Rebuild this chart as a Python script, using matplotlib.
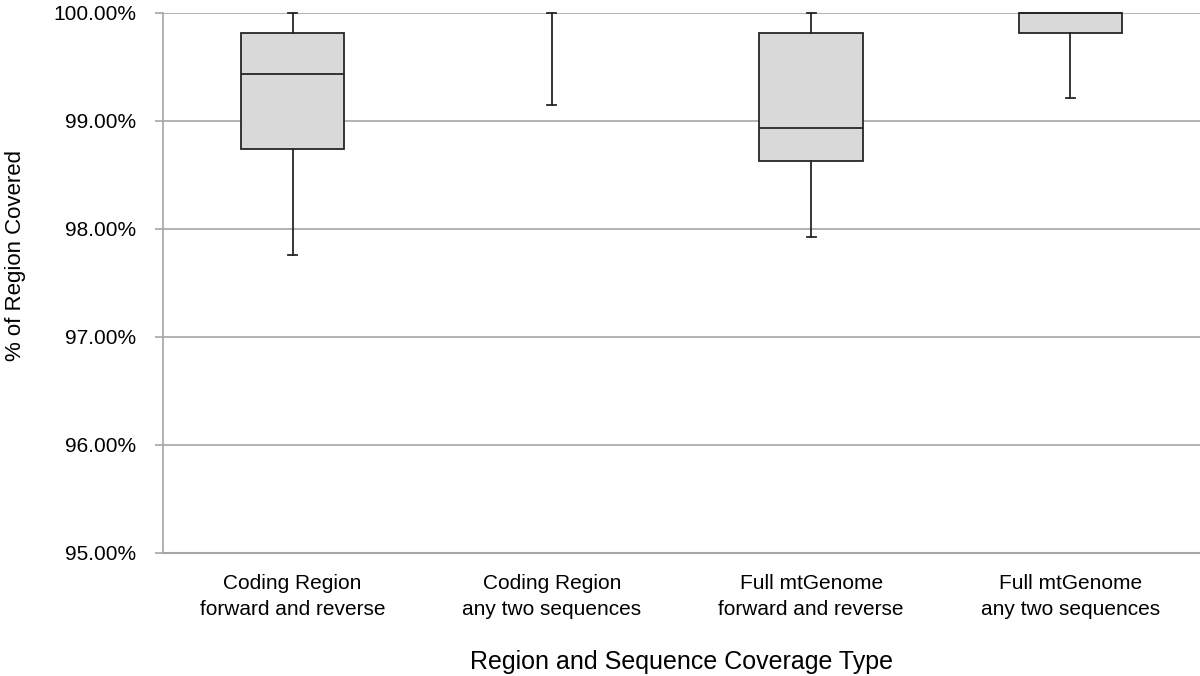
import matplotlib
matplotlib.use("Agg")
import matplotlib.pyplot as plt

plt.rcParams['font.family'] = ['Liberation Sans', 'DejaVu Sans']

# categories (two-line tick labels)
categories = ["Coding Region\nforward and reverse",
              "Coding Region\nany two sequences",
              "Full mtGenome\nforward and reverse",
              "Full mtGenome\nany two sequences"]
# box statistics (% of region covered)
whisker_low = [97.76, 99.145, 97.92, 99.21]
q1 = [98.74, 100.0, 98.63, 99.815]
median = [99.43, 100.0, 98.93, 100.0]
q3 = [99.81, 100.0, 99.816, 100.0]
whisker_high = [100.0, 100.0, 100.0, 100.0]
y_ticks = [95, 96, 97, 98, 99, 100]

stats = []
for i, name in enumerate(categories):
    stats.append(dict(label=name, whislo=whisker_low[i], q1=q1[i], med=median[i],
                      q3=q3[i], whishi=whisker_high[i], fliers=[]))

fig = plt.figure(figsize=(12, 6.76), dpi=100)
ax = fig.add_axes([163/1200, 123/676, 1037/1200, 540.3/676])

edge = '#262626'
bp = ax.bxp(stats, positions=range(1, 5), widths=0.4, patch_artist=True,
            showfliers=False, capwidths=0.035,
            boxprops=dict(facecolor='#d9d9d9', edgecolor=edge, linewidth=1.3),
            medianprops=dict(color=edge, linewidth=1.3),
            whiskerprops=dict(color=edge, linewidth=1.3),
            capprops=dict(color=edge, linewidth=1.3))
# a box with no spread is not drawn
for i, box in enumerate(bp['boxes']):
    if q1[i] == q3[i]:
        box.set_visible(False)
        bp['medians'][i].set_visible(False)
for art in bp['boxes'] + bp['medians'] + bp['whiskers'] + bp['caps']:
    art.set_clip_on(False)
    art.set_zorder(3)

ax.set_xlim(0.5, 4.5)
ax.set_ylim(95, 100)
ax.set_yticks(y_ticks)
ax.set_yticklabels(["{:.2f}%".format(v) for v in y_ticks])
ax.yaxis.grid(True, color='#a6a6a6', linewidth=1.2)
ax.set_axisbelow(True)

for s in ['top', 'right']:
    ax.spines[s].set_visible(False)
ax.spines['left'].set_color('#a6a6a6')
ax.spines['bottom'].set_color('#a6a6a6')
ax.spines['left'].set_linewidth(1.2)
ax.spines['bottom'].set_linewidth(1.5)

ax.tick_params(axis='y', length=6, color='#a6a6a6', width=1.2, pad=13, labelsize=15)
ax.tick_params(axis='x', length=0, pad=15, labelsize=15)
for t in ax.get_xticklabels():
    t.set_linespacing(1.45)

ax.set_ylabel("% of Region Covered", fontsize=16)
ax.yaxis.set_label_coords(-0.132, 0.55)
ax.set_xlabel("Region and Sequence Coverage Type", fontsize=18)
ax.xaxis.set_label_coords(0.5, -0.18)

fig.savefig("out.png", dpi=100)
